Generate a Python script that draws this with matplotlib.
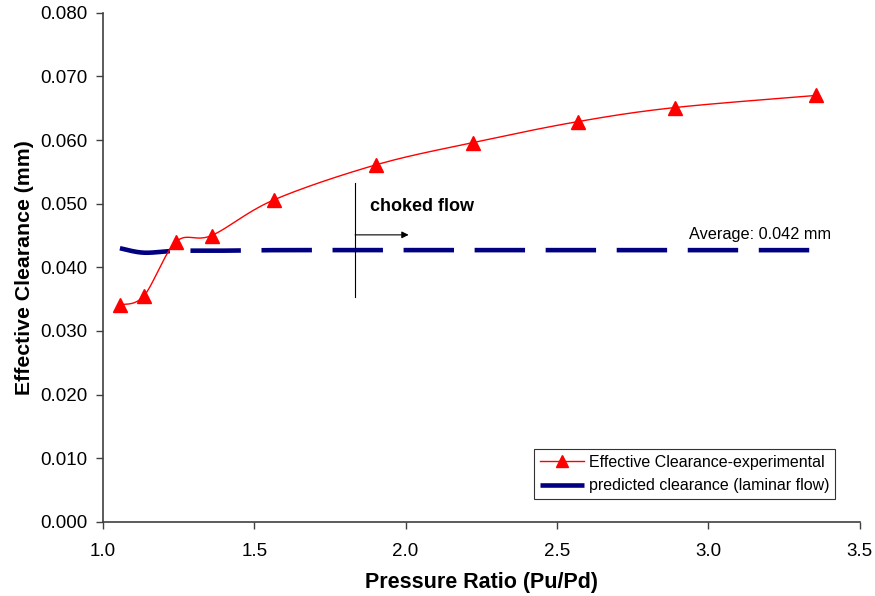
import numpy as np
import matplotlib
matplotlib.use("Agg")
import matplotlib.pyplot as plt
from matplotlib.lines import Line2D

plt.rcParams['font.family'] = ['Liberation Sans', 'DejaVu Sans']

pressure_ratio = [1.056, 1.135, 1.241, 1.359, 1.565, 1.902, 2.223, 2.570, 2.890, 3.356]
clearance_exp = [0.0341, 0.0355, 0.0440, 0.0450, 0.0506, 0.0561, 0.0596, 0.0629, 0.0651, 0.0670]
clearance_pred = [0.0430, 0.0423, 0.0426, 0.0426, 0.0427, 0.0427, 0.0427, 0.0427, 0.0427, 0.0427]

XSCALE = 302.6   # px per x unit (for smoothing shape)
YSCALE = 6360.0  # px per y unit


def excel_smooth(xs, ys, n=40):
    P = np.column_stack([np.asarray(xs) * XSCALE, np.asarray(ys) * YSCALE])
    m = len(P)
    out = [P[0]]
    for i in range(m - 1):
        p0 = P[i - 1] if i > 0 else P[i]
        p1 = P[i]
        p2 = P[i + 1]
        p3 = P[i + 2] if i + 2 < m else P[i + 1]
        c1 = p1 + (p2 - p0) / 6.0
        c2 = p2 - (p3 - p1) / 6.0
        t = np.linspace(0, 1, n)[1:, None]
        seg = ((1 - t) ** 3) * p1 + 3 * ((1 - t) ** 2) * t * c1 + 3 * (1 - t) * t ** 2 * c2 + t ** 3 * p2
        out.extend(seg)
    out = np.array(out)
    return out[:, 0] / XSCALE, out[:, 1] / YSCALE


fig = plt.figure(figsize=(8.75, 5.96), dpi=100)
ax = fig.add_axes([0.1177, 0.1242, 0.8646, 0.8545])

sx, sy = excel_smooth(pressure_ratio, clearance_exp)
ax.plot(sx, sy, color='#ff0000', lw=1.0, zorder=3)
ax.plot(pressure_ratio, clearance_exp, ls='none', marker='^', ms=10,
        color='#ff0000', mec='#ff0000', zorder=4)

px, py = excel_smooth(pressure_ratio, clearance_pred)
ax.plot(px, py, color='#000080', lw=3.3, dashes=(11, 4.5), zorder=2)

# choked flow annotation
ax.plot([1.833, 1.833], [0.0354, 0.0533], color='black', lw=0.8, zorder=5)
ax.annotate('', xy=(2.010, 0.0451), xytext=(1.833, 0.0451),
            arrowprops=dict(arrowstyle='-|>', color='black', lw=0.8,
                            mutation_scale=10, shrinkA=0, shrinkB=0))
ax.text(1.882, 0.0495, 'choked flow', fontsize=13, fontweight='bold',
        va='center', ha='left')
ax.text(3.405, 0.0451, 'Average: 0.042 mm', fontsize=11.7, va='center', ha='right')

ax.set_xlim(1.0, 3.5)
ax.set_ylim(0.0, 0.080)
ax.set_xticks(np.arange(1.0, 3.51, 0.5))
ax.set_xticklabels(['1.0', '1.5', '2.0', '2.5', '3.0', '3.5'])
ax.set_yticks(np.arange(0, 0.0801, 0.01))
ax.set_yticklabels(['%.3f' % v for v in np.arange(0, 0.0801, 0.01)])
ax.tick_params(direction='out', length=5, width=1, colors='#404040',
               labelcolor='black', labelsize=13.5)
ax.tick_params(axis='x', pad=10)
ax.tick_params(axis='y', pad=6)
for s in ['top', 'right']:
    ax.spines[s].set_visible(False)
for s in ['left', 'bottom']:
    ax.spines[s].set_color('#404040')
    ax.spines[s].set_linewidth(1.2)

ax.set_xlabel('Pressure Ratio (Pu/Pd)', fontsize=15.5, fontweight='bold', labelpad=9)
ax.set_ylabel('Effective Clearance (mm)', fontsize=15.3, fontweight='bold', labelpad=5)

handles = [Line2D([], [], color='#ff0000', lw=1.0, marker='^', ms=9),
           Line2D([], [], color='#000080', lw=3.3, dashes=(11, 4.5))]
leg = ax.legend(handles, ['Effective Clearance-experimental',
                          'predicted clearance (laminar flow)'],
                loc='lower right', bbox_to_anchor=(0.968, 0.045), fontsize=11.5,
                frameon=True, fancybox=False, edgecolor='black',
                handlelength=2.8, borderpad=0.35, labelspacing=0.55,
                handletextpad=0.3, borderaxespad=0)
leg.get_frame().set_linewidth(0.8)

fig.savefig('out.png', dpi=100)
